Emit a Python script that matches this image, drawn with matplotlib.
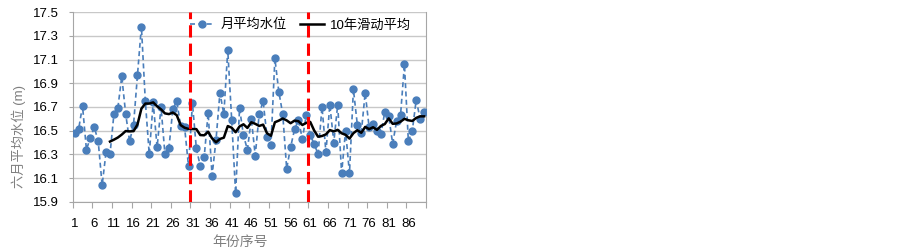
import matplotlib
matplotlib.use('Agg')
import matplotlib.pyplot as plt
import numpy as np
import pandas as pd

plt.rcParams['font.family'] = ['Liberation Sans', 'Noto Sans CJK SC']
plt.rcParams['axes.unicode_minus'] = False

# June monthly mean water level, years 1..90
years = np.arange(1, 91)
levels = [
    16.48, 16.51, 16.71, 16.34, 16.44, 16.53, 16.41, 16.04, 16.32, 16.30,
    16.64, 16.69, 16.96, 16.64, 16.41, 16.55, 16.97, 17.38, 16.75, 16.30,
    16.74, 16.36, 16.70, 16.30, 16.35, 16.68, 16.75, 16.54, 16.53, 16.20,
    16.73, 16.35, 16.20, 16.28, 16.65, 16.12, 16.42, 16.82, 16.64, 17.18,
    16.59, 15.97, 16.69, 16.46, 16.34, 16.60, 16.29, 16.64, 16.75, 16.45,
    16.38, 17.11, 16.83, 16.64, 16.18, 16.36, 16.51, 16.59, 16.43, 16.63,
    16.46, 16.39, 16.30, 16.70, 16.32, 16.72, 16.40, 16.72, 16.14, 16.50,
    16.14, 16.85, 16.55, 16.48, 16.82, 16.53, 16.56, 16.50, 16.47, 16.66,
    16.62, 16.39, 16.58, 16.63, 17.06, 16.41, 16.50, 16.76, 16.60, 16.66,
]
window = 10
split_years = [30.5, 60.5]
label_years = np.arange(1, 90, 5)

ma = pd.Series(levels).rolling(window).mean()

fig = plt.figure(figsize=(9.03, 2.52), dpi=100)
ax = fig.add_axes([0.0805, 0.1996, 0.3913, 0.7516])

blue = '#4A7EBB'
ax.plot(years, levels, color=blue, lw=1.2, ls=(0, (3, 2)),
        marker='o', ms=5, mfc=blue, mec=blue, label='月平均水位', zorder=3)
ax.plot(years, ma, color='black', lw=1.8, label='10年滑动平均', zorder=4)
for xs in split_years:
    ax.axvline(xs, color='#FF0000', lw=2.2, ls=(0, (4, 2)), zorder=5)

ax.set_xlim(0.5, 90.5)
ax.set_ylim(15.9, 17.5)
ax.set_yticks(np.arange(15.9, 17.51, 0.2))
ax.set_yticklabels([f'{v:.1f}' for v in np.arange(15.9, 17.51, 0.2)])
ax.grid(axis='y', color='#C8C8C8', lw=1)
ax.set_axisbelow(True)

# tick marks between categories, labels at category centres
ax.set_xticks(np.arange(0.5, 91, 5))
ax.set_xticklabels([])
ax.set_xticks(label_years, minor=True)
ax.set_xticklabels([str(v) for v in label_years], minor=True)
ax.tick_params(axis='x', which='major', length=4, color='#A6A6A6', width=0.8)
ax.tick_params(axis='x', which='minor', length=0, pad=12, labelsize=9.5)
ax.tick_params(axis='y', length=3, color='#A6A6A6', width=0.8, pad=7, labelsize=9.5)

for side in ['left', 'bottom', 'right']:
    ax.spines[side].set_color('#A6A6A6')
    ax.spines[side].set_linewidth(0.8)
ax.spines['top'].set_visible(False)

fig.text(0.021, 0.46, '六月平均水位 (m)', rotation=90, ha='center', va='center',
         fontsize=9.5, color='#7F7F7F')
fig.text(0.266, 0.041, '年份序号', ha='center', va='center',
         fontsize=10, color='#7F7F7F')

ax.legend(loc='center left', bbox_to_anchor=(190 / 903, 1 - 25 / 252),
          bbox_transform=fig.transFigure, ncol=2, frameon=False, fontsize=9.5,
          handlelength=1.8, handletextpad=0.5, columnspacing=1.0,
          borderpad=0, borderaxespad=0)

fig.savefig('out.png', dpi=100, facecolor='white')
